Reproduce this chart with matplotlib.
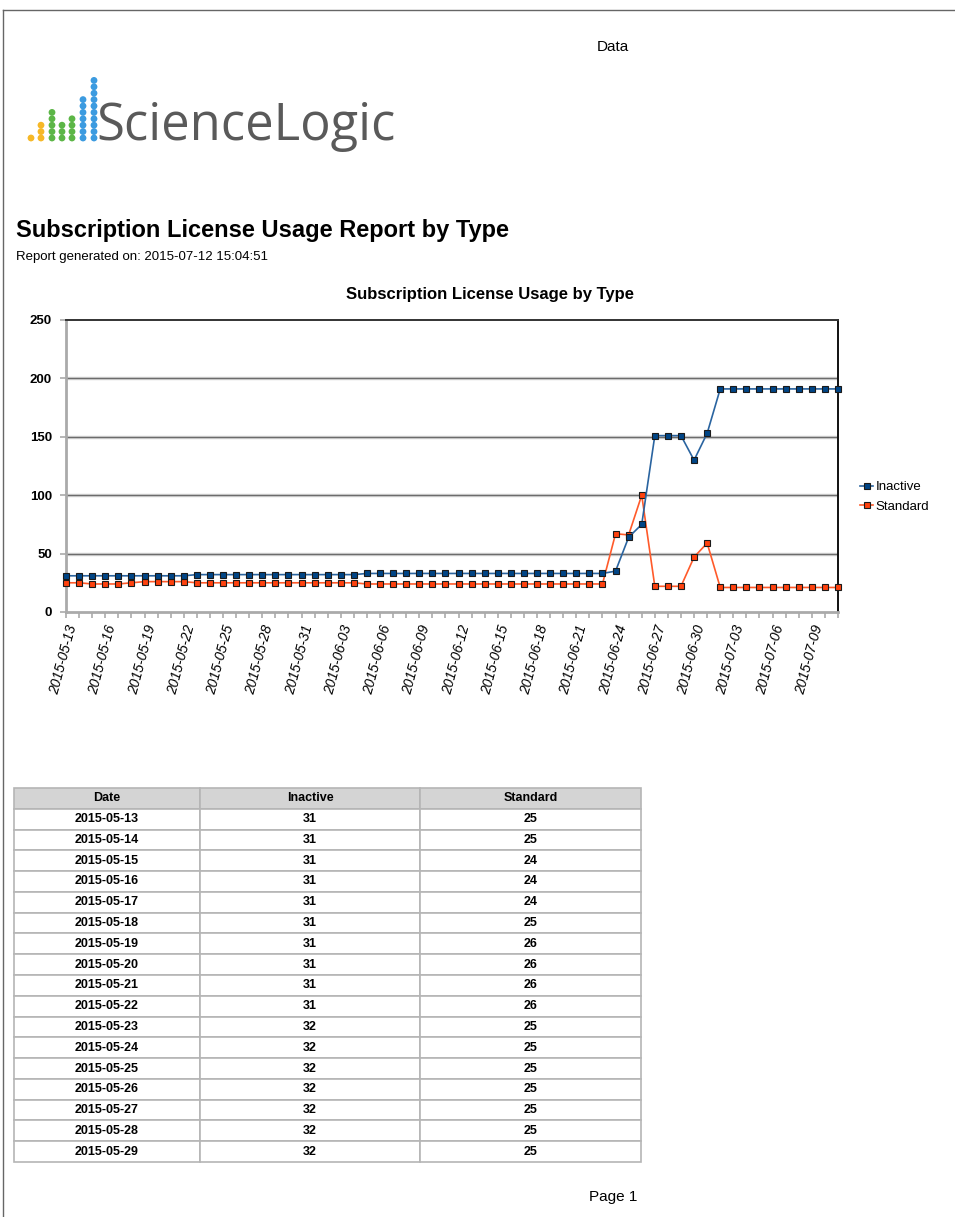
import matplotlib
matplotlib.use("Agg")
import matplotlib.pyplot as plt
import pandas as pd
from matplotlib.lines import Line2D

plt.rcParams['font.family'] = ['Liberation Sans', 'DejaVu Sans']

# data (2015-05-13 .. 2015-07-11)
dates = pd.date_range("2015-05-13", "2015-07-11", freq="D")
inactive = ([31] * 10 + [32] * 13 + [33] * 19 +
            [35, 64, 75, 151, 151, 151, 130, 153] + [191] * 10)
standard = ([25, 25, 24, 24, 24, 25, 26, 26, 26, 26] + [25] * 13 + [24] * 19 +
            [67, 66, 100, 22, 22, 22, 47, 59] + [21] * 10)
date_labels = [d.strftime("%Y-%m-%d") for d in dates]

# table rows shown on page 1
table_dates = date_labels[:17]
table_inactive = inactive[:17]
table_standard = standard[:17]

# logo dot columns (count per column) and colours
logo_counts = [1, 3, 5, 3, 4, 7, 10]
logo_colors = ["#f6b827", "#f6b827", "#5cb647", "#5cb647", "#5cb647", "#3c9be0", "#3c9be0"]

W, H = 955, 1217
fig = plt.figure(figsize=(W / 100, H / 100), dpi=100)

def fx(px):
    return px / W

def fy(py):
    return 1 - py / H

# page border
fig.add_artist(Line2D([fx(3), 1], [fy(10), fy(10)], color="#666666", lw=1))
fig.add_artist(Line2D([fx(3), fx(3)], [fy(10), 0], color="#666666", lw=1))

fig.text(fx(613), fy(47), "Data", ha="center", va="center", fontsize=11)
fig.text(fx(613), fy(1197), "Page 1", ha="center", va="center", fontsize=11)

# logo
lax = fig.add_axes([fx(25), fy(160), fx(80), 90 / H])
lax.set_xlim(25, 105)
lax.set_ylim(160, 70)
lax.axis("off")
col_x = [31, 41, 52, 62, 72, 83, 94]
for cx, n, c in zip(col_x, logo_counts, logo_colors):
    ys = [138 - 6.4 * k for k in range(n)]
    lax.scatter([cx] * n, ys, s=24, color=c, edgecolors="none")
fig.text(fx(96), fy(140), "ScienceLogic", ha="left", va="baseline",
         fontsize=36.5, color="#5a5a5a", family=["Open Sans", "DejaVu Sans"])

fig.text(fx(16), fy(231), "Subscription License Usage Report by Type",
         ha="left", va="center", fontsize=17, fontweight="bold")
fig.text(fx(16), fy(257), "Report generated on: 2015-07-12 15:04:51",
         ha="left", va="center", fontsize=9.5)

# chart
ax = fig.add_axes([fx(66), fy(612), fx(838) - fx(66), (612 - 320) / H])
x = list(range(len(dates)))
ax.plot(x, inactive, color="#2a64a0", lw=1.2, marker="s", markersize=4,
        markerfacecolor="#004586", markeredgecolor="#1a1a1a", markeredgewidth=0.8,
        label="Inactive", zorder=4, clip_on=False)
ax.plot(x, standard, color="#ff5a2a", lw=1.2, marker="s", markersize=4,
        markerfacecolor="#ff420e", markeredgecolor="#1a1a1a", markeredgewidth=0.8,
        label="Standard", zorder=3, clip_on=False)
ax.set_xlim(0, len(dates) - 1)
ax.set_ylim(0, 250)
ax.set_yticks([0, 50, 100, 150, 200, 250])
ax.set_yticklabels(["0", "50", "100", "150", "200", "250"], fontsize=9.5, fontweight="bold")
for yv in [50, 100, 150, 200]:
    ax.axhline(yv, color="#c4c4c4", lw=2.4, zorder=1)
    ax.axhline(yv, color="#6a6a6a", lw=0.7, zorder=1)
ax.set_xticks(x[::3])
ax.set_xticklabels(date_labels[::3], rotation=75, ha="right", rotation_mode="anchor",
                   fontsize=10, style="italic")
ax.set_xticks(x, minor=True)
ax.tick_params(axis="x", which="both", length=4, color="#aaaaaa", width=1.2, pad=4)
ax.tick_params(axis="y", length=4, color="#aaaaaa", width=1.2, pad=6)
for s in ["left", "bottom"]:
    ax.spines[s].set_color("#aaaaaa")
    ax.spines[s].set_linewidth(2)
ax.spines["top"].set_color("#333333")
ax.spines["top"].set_linewidth(1.4)
ax.spines["right"].set_color("#111111")
ax.spines["right"].set_linewidth(1.4)
fig.text(fx(490), fy(295), "Subscription License Usage by Type",
         ha="center", va="center", fontsize=12, fontweight="bold")
fig.legend(loc="upper left", bbox_to_anchor=(fx(860), fy(481)), frameon=False,
           fontsize=9.5, handlelength=1.0, handletextpad=0.2, labelspacing=0.55,
           borderaxespad=0, borderpad=0)

# table
tax = fig.add_axes([fx(14), fy(1162), fx(641) - fx(14), (1162 - 788) / H])
tax.axis("off")
cell_text = [[d, str(a), str(b)] for d, a, b in zip(table_dates, table_inactive, table_standard)]
tbl = tax.table(cellText=cell_text, colLabels=["Date", "Inactive", "Standard"],
                colWidths=[186 / 627, 220 / 627, 221 / 627], cellLoc="center",
                bbox=[0, 0, 1, 1])
tbl.auto_set_font_size(False)
for (r, c), cell in tbl.get_celld().items():
    cell.set_edgecolor("#b5b5b5")
    cell.set_linewidth(1.2)
    cell.get_text().set_fontsize(9)
    cell.get_text().set_fontweight("bold")
    if r == 0:
        cell.set_facecolor("#d4d4d4")

fig.savefig("out.png", dpi=100)
